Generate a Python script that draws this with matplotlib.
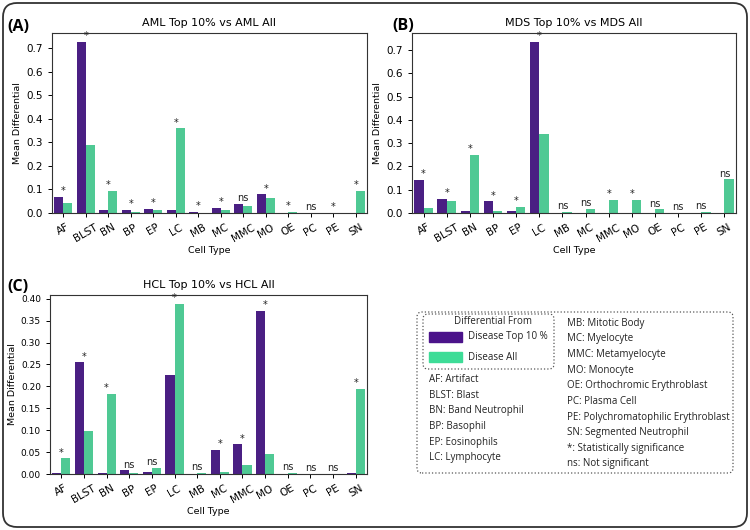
import numpy as np
import matplotlib
matplotlib.use("Agg")
import matplotlib.pyplot as plt
from matplotlib.patches import FancyBboxPatch, Rectangle

cell_types = ["AF", "BLST", "BN", "BP", "EP", "LC", "MB", "MC", "MMC", "MO",
              "OE", "PC", "PE", "SN"]

# (A) AML
aml_top = [0.070, 0.728, 0.014, 0.014, 0.017, 0.011, 0.005, 0.021, 0.038, 0.079,
           0.0, 0.0, 0.0, 0.0]
aml_all = [0.042, 0.290, 0.095, 0.004, 0.011, 0.359, 0.001, 0.011, 0.028, 0.064,
           0.006, 0.001, 0.001, 0.093]
aml_sig = ["*", "*", "*", "*", "*", "*", "*", "*", "ns", "*", "*", "ns", "*", "*"]

# (B) MDS
mds_top = [0.143, 0.060, 0.008, 0.050, 0.008, 0.736, 0.0, 0.0, 0.0, 0.0,
           0.0, 0.0, 0.0, 0.0]
mds_all = [0.021, 0.053, 0.251, 0.008, 0.027, 0.340, 0.005, 0.018, 0.057, 0.057,
           0.016, 0.001, 0.004, 0.145]
mds_sig = ["*", "*", "*", "*", "*", "*", "ns", "ns", "*", "*", "ns", "ns", "ns", "ns"]

# (C) HCL
hcl_top = [0.002, 0.255, 0.002, 0.008, 0.005, 0.227, 0.0, 0.055, 0.068, 0.373,
           0.0, 0.0, 0.0, 0.003]
hcl_all = [0.036, 0.097, 0.183, 0.003, 0.014, 0.389, 0.003, 0.005, 0.020, 0.046,
           0.003, 0.0, 0.0, 0.195]
hcl_sig = ["*", "*", "*", "ns", "ns", "*", "ns", "*", "*", "*", "ns", "ns", "ns", "*"]

left_notes = ["AF: Artifact", "BLST: Blast", "BN: Band Neutrophil", "BP: Basophil",
              "EP: Eosinophils", "LC: Lymphocyte"]
right_notes = ["MB: Mitotic Body", "MC: Myelocyte", "MMC: Metamyelocyte",
               "MO: Monocyte", "OE: Orthochromic Erythroblast", "PC: Plasma Cell",
               "PE: Polychromatophilic Erythroblast", "SN: Segmented Neutrophil",
               "*: Statistically significance", "ns: Not significant"]

purple = "#4a1f83"
green = "#4fc994"
leg_purple = "#4b138a"
leg_green = "#3ddc97"
note_font = "Open Sans"
note_size = 7.0

fig = plt.figure(figsize=(7.5, 5.3), dpi=100)


def px(x, y):
    # pixel position (from top-left) -> inches for dpi_scale_trans
    return x / 100.0, (530 - y) / 100.0


def panel(rect, top, allv, sig, title, letter, letter_xy, ytick_size=7.5):
    ax = fig.add_axes(rect)
    x = np.arange(len(cell_types))
    w = 0.4
    ax.bar(x - w / 2, top, w, color=purple)
    ax.bar(x + w / 2, allv, w, color=green)
    for i, s in enumerate(sig):
        h = max(top[i], allv[i])
        ax.annotate(s, (x[i], h), xytext=(0, 0.5), textcoords="offset points",
                    ha="center", va="bottom", fontsize=7, color="#222222")
    ax.set_xlim(-0.5, len(cell_types) - 0.5)
    ax.set_xticks(x)
    ax.set_xticklabels(cell_types, rotation=30, fontsize=7.5)
    ax.tick_params(axis="y", labelsize=ytick_size)
    ax.tick_params(length=3, width=0.7)
    ax.set_xlabel("Cell Type", fontsize=6.8, labelpad=2)
    ax.set_ylabel("Mean Differential", fontsize=6.8, labelpad=3)
    ax.set_title(title, fontsize=8, pad=5)
    for sp in ax.spines.values():
        sp.set_linewidth(0.8)
        sp.set_color("#333333")
    lx, ly = px(*letter_xy)
    fig.text(lx, ly, letter, transform=fig.dpi_scale_trans, fontsize=11.5,
             fontweight="bold", family=note_font, va="center")
    return ax


panel([52 / 750, 1 - 213 / 530, 315 / 750, 180 / 530], aml_top, aml_all, aml_sig,
      "AML Top 10% vs AML All", "(A)", (7, 27))
panel([412 / 750, 1 - 213 / 530, 324 / 750, 180 / 530], mds_top, mds_all, mds_sig,
      "MDS Top 10% vs MDS All", "(B)", (392, 26))
ax_c = panel([50 / 750, 1 - 474 / 530, 317 / 750, 179 / 530], hcl_top, hcl_all, hcl_sig,
             "HCL Top 10% vs HCL All", "(C)", (7, 287), ytick_size=6.5)
ax_c.set_yticks(np.arange(0, 0.41, 0.05))
ax_c.set_yticklabels(["%.2f" % v for v in np.arange(0, 0.41, 0.05)])

# outer rounded frame
x0, y0 = px(3, 527)
fig.patches.append(FancyBboxPatch((x0, y0), 7.44, 5.24,
                                  boxstyle="round,pad=0,rounding_size=0.14",
                                  transform=fig.dpi_scale_trans, fill=False,
                                  ec="#333333", lw=1.3))

# legend / notes box
x0, y0 = px(417, 473)
fig.patches.append(FancyBboxPatch((x0, y0), 3.16, 1.61,
                                  boxstyle="round,pad=0,rounding_size=0.05",
                                  transform=fig.dpi_scale_trans, fill=False,
                                  ec="#555555", lw=0.9, ls=":"))
x0, y0 = px(423, 369)
fig.patches.append(FancyBboxPatch((x0, y0), 1.31, 0.55,
                                  boxstyle="round,pad=0,rounding_size=0.05",
                                  transform=fig.dpi_scale_trans, fill=False,
                                  ec="#555555", lw=0.9, ls=":"))

tx, ty = px(493, 322)
fig.text(tx, ty, "Differential From", transform=fig.dpi_scale_trans,
         ha="center", va="center", fontsize=note_size, family=note_font,
         color="#222222")
for col, lab, yc in [(leg_purple, "Disease Top 10 %", 337), (leg_green, "Disease All", 357)]:
    rx, ry = px(429, yc + 5)
    fig.patches.append(Rectangle((rx, ry), 0.33, 0.10, transform=fig.dpi_scale_trans,
                                 color=col))
    tx, ty = px(468, yc)
    fig.text(tx, ty, lab, transform=fig.dpi_scale_trans, va="center",
             fontsize=note_size, family=note_font, color="#222222")

for i, s in enumerate(left_notes):
    tx, ty = px(429, 380 + i * 15.5)
    fig.text(tx, ty, s, transform=fig.dpi_scale_trans, va="center",
             fontsize=note_size, family=note_font, color="#222222")
for i, s in enumerate(right_notes):
    tx, ty = px(567, 323.3 + i * 15.63)
    fig.text(tx, ty, s, transform=fig.dpi_scale_trans, va="center",
             fontsize=note_size, family=note_font, color="#222222")

fig.savefig("out.png", dpi=100)
